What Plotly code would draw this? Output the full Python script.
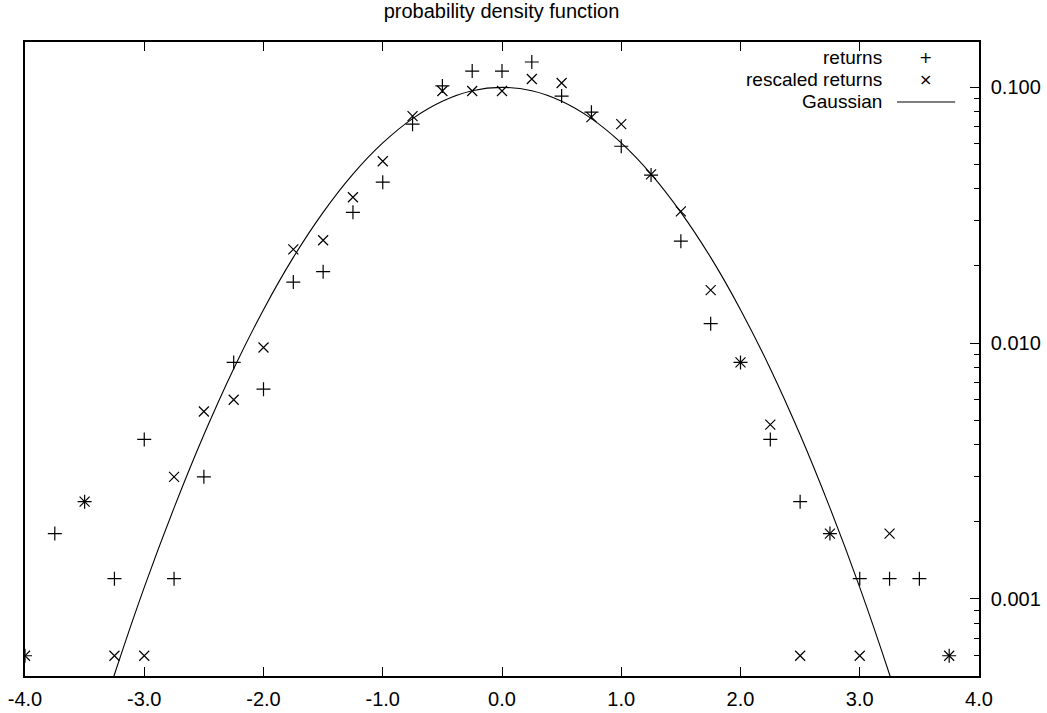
import plotly.graph_objects as go

# ---- data ----
bins = [-4.0, -3.75, -3.5, -3.25, -3.0, -2.75, -2.5, -2.25, -2.0, -1.75, -1.5, -1.25,
        -1.0, -0.75, -0.5, -0.25, 0.0, 0.25, 0.5, 0.75, 1.0, 1.25, 1.5, 1.75,
        2.0, 2.25, 2.5, 2.75, 3.0, 3.25, 3.5, 3.75]

returns = [0.0006, 0.0018, 0.0024, 0.0012, 0.0042, 0.0012, 0.0030, 0.0084, 0.0066, 0.0173, 0.0190, 0.0324,
           0.0425, 0.0716, 0.1010, 0.1155, 0.1155, 0.1253, 0.0922, 0.0798, 0.0587, 0.0453, 0.0250, 0.0119,
           0.0084, 0.0042, 0.0024, 0.0018, 0.0012, 0.0012, 0.0012, 0.0006]

rescaled_x = [-4.0, -3.5, -3.25, -3.0, -2.75, -2.5, -2.25, -2.0, -1.75, -1.5, -1.25,
              -1.0, -0.75, -0.5, -0.25, 0.0, 0.25, 0.5, 0.75, 1.0, 1.25, 1.5, 1.75,
              2.0, 2.25, 2.5, 2.75, 3.0, 3.25, 3.75]
rescaled = [0.0006, 0.0024, 0.0006, 0.0006, 0.0030, 0.0054, 0.0060, 0.0096, 0.0232, 0.0252, 0.0371,
            0.0513, 0.0770, 0.0965, 0.0965, 0.0965, 0.1075, 0.1037, 0.0763, 0.0716, 0.0456, 0.0327, 0.0161,
            0.0084, 0.0048, 0.0006, 0.0018, 0.0006, 0.0018, 0.0006]

gauss_x = [-3.5, -3.25, -3.0, -2.75, -2.5, -2.25, -2.0, -1.75, -1.5, -1.25, -1.0, -0.75, -0.5, -0.25,
           0.0, 0.25, 0.5, 0.75, 1.0, 1.25, 1.5, 1.75, 2.0, 2.25, 2.5, 2.75, 3.0, 3.25, 3.5]
gauss_y = [0.000218, 0.000507, 0.00111, 0.00227, 0.00438, 0.00794, 0.0135, 0.0216, 0.0324, 0.0457, 0.0605,
           0.0753, 0.0880, 0.0967, 0.0997, 0.0967, 0.0880, 0.0753, 0.0605, 0.0457, 0.0324, 0.0216, 0.0135,
           0.00794, 0.00438, 0.00227, 0.00111, 0.000507, 0.000218]

series_names = ["returns", "rescaled returns", "Gaussian"]

x_ticks = [-4.0, -3.0, -2.0, -1.0, 0.0, 1.0, 2.0, 3.0, 4.0]
x_tick_text = ["-4.0", "-3.0", "-2.0", "-1.0", "0.0", "1.0", "2.0", "3.0", "4.0"]
y_ticks = [0.001, 0.01, 0.1]
y_tick_text = ["0.001", "0.010", "0.100"]

FONT = "Liberation Sans, Arial, Helvetica, sans-serif"

fig = go.Figure()
fig.add_trace(go.Scatter(
    x=bins, y=returns, mode="markers", name=series_names[0], showlegend=False,
    marker=dict(symbol="cross-thin", size=10, color="black",
                line=dict(color="black", width=1.2)),
))
fig.add_trace(go.Scatter(
    x=rescaled_x, y=rescaled, mode="markers", name=series_names[1], showlegend=False,
    marker=dict(symbol="x-thin", size=10, color="black",
                line=dict(color="black", width=1.2)),
))
fig.add_trace(go.Scatter(
    x=gauss_x, y=gauss_y, mode="lines", name=series_names[2], showlegend=False,
    line=dict(color="black", width=1.1, shape="spline", smoothing=1.0),
))

# ---- gnuplot-style key (text right-aligned, sample to the right) ----
# plot area: 954 x 634 px; rows at about 58, 80.5, 103 px from the top of the page
key_rows_y = [0.9763, 0.9409, 0.9054]
key_text_x = 0.8994
key_sample_x = 0.9434
key_samples = ["+", "\u00d7", None]
for name, ry, sample in zip(series_names, key_rows_y, key_samples):
    fig.add_annotation(xref="paper", yref="paper", x=key_text_x, y=ry,
                       xanchor="right", yanchor="middle", text=name, showarrow=False,
                       borderpad=0,
                       font=dict(family=FONT, size=19, color="black"))
    if sample is not None:
        fig.add_annotation(xref="paper", yref="paper", x=key_sample_x, y=ry,
                           xanchor="center", yanchor="middle", text=sample, showarrow=False,
                           borderpad=0,
                           font=dict(family="DejaVu Sans, sans-serif", size=16, color="black"))
    else:
        fig.add_shape(type="line", xref="paper", yref="paper",
                      x0=0.914, x1=0.975, y0=ry, y1=ry,
                      line=dict(color="black", width=1.1))

minor_vals = [k * 10 ** e for e in (-4, -3, -2, -1) for k in range(2, 10)]

fig.update_layout(
    width=1047, height=713,
    margin=dict(l=25, r=68, t=42, b=37, autoexpand=False),
    paper_bgcolor="white", plot_bgcolor="white",
    font=dict(family=FONT, size=20, color="black"),
    title=dict(text="probability density function", x=0.479, xanchor="center",
               y=0.995, yanchor="top", font=dict(family=FONT, size=20, color="black")),
    showlegend=False,
)

fig.update_xaxes(
    range=[-4, 4], tickmode="array", tickvals=x_ticks, ticktext=x_tick_text,
    ticks="inside", ticklen=9, tickwidth=1.2, tickcolor="black",
    showline=True, linecolor="black", linewidth=1.5, mirror="ticks",
    showgrid=False, zeroline=False, ticklabelstandoff=4, automargin=False,
    tickfont=dict(family=FONT, size=20, color="black"),
)
fig.update_yaxes(
    type="log", range=[-3.301, -0.824], side="right",
    tickmode="array", tickvals=y_ticks, ticktext=y_tick_text,
    ticks="inside", ticklen=9, tickwidth=1.2, tickcolor="black",
    minor=dict(tickmode="array", tickvals=minor_vals, ticks="inside", ticklen=5,
               tickwidth=1.2, tickcolor="black", showgrid=False),
    showline=True, linecolor="black", linewidth=1.5, mirror=True,
    showgrid=False, zeroline=False, ticklabelstandoff=6, automargin=False,
    tickfont=dict(family=FONT, size=20, color="black"),
)

fig.write_html("out.html", config={"displayModeBar": False},
               post_script="document.body.style.margin='0';")
